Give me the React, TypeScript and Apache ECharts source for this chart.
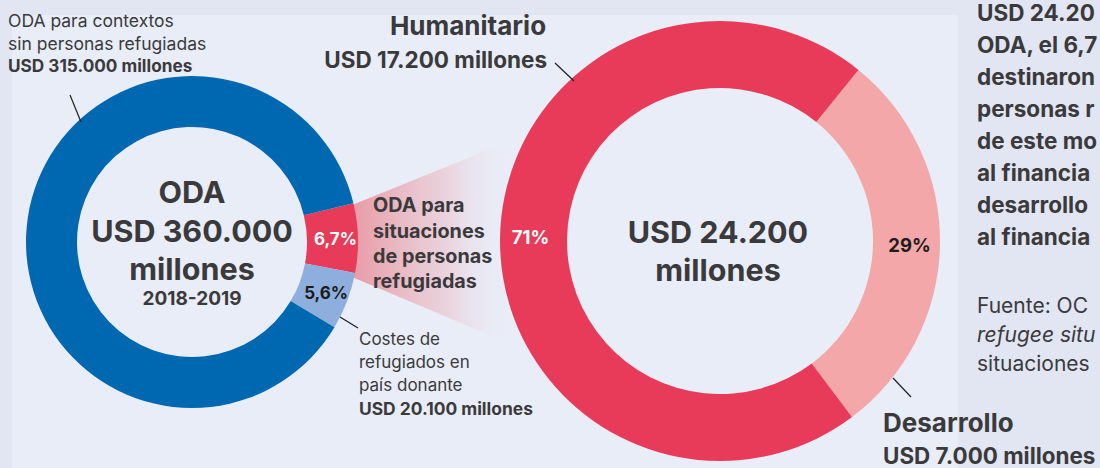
import React, { useEffect, useRef } from "react";
import * as echarts from "echarts";

// ---- data ----
const leftCategories = [
  "ODA para situaciones de personas refugiadas",
  "Costes de refugiados en país donante",
  "ODA para contextos sin personas refugiadas",
];
const leftValues = [24200, 20100, 315000];
const leftPctLabels = ["6,7%", "5,6%", ""];

const rightCategories = ["Desarrollo", "Humanitario"];
const rightValues = [7000, 17200];
const rightPctLabels = ["29%", "71%"];

// visible (cropped) part of the side note, as in the reference
const noteLines = [
  "USD 24.20",
  "ODA, el 6,7",
  "destinaron",
  "personas r",
  "de este mo",
  "al financia",
  "desarrollo",
  "al financia",
];
const sourceLines = ["Fuente: OC", "refugee situ", "situaciones"];

const FONT = "Inter, 'Noto Sans', sans-serif";
const DARK = "#3a3a3c";

export default function App() {
  const ref = useRef<HTMLDivElement>(null);

  useEffect(() => {
    if (!ref.current) return;
    const chart = echarts.init(ref.current, null, { renderer: "svg" });

    const txt = (
      text: string,
      x: number,
      y: number,
      size: number,
      weight: string,
      align: string = "left",
      fill: string = DARK,
      italic = false
    ) => ({
      type: "text",
      z: 20,
      silent: true,
      style: {
        text,
        x,
        y,
        font: `${italic ? "italic " : ""}${weight} ${size}px ${FONT}`,
        fill,
        align,
        textAlign: align,
        verticalAlign: "middle",
        textVerticalAlign: "middle",
      },
    });
    const ln = (x1: number, y1: number, x2: number, y2: number) => ({
      type: "line",
      z: 20,
      silent: true,
      shape: { x1, y1, x2, y2 },
      style: { stroke: "#1f1f1f", lineWidth: 1.2 },
    });

    const graphics: any[] = [
      {
        type: "rect",
        z: 0,
        silent: true,
        shape: { x: 12, y: 15, width: 946, height: 460 },
        style: { fill: "#e9edf8" },
      },
      {
        type: "polygon",
        z: 1,
        silent: true,
        shape: {
          points: [
            [352, 205],
            [525, 135],
            [525, 350],
            [352, 277],
          ],
        },
        style: {
          fill: new echarts.graphic.LinearGradient(0, 0, 1, 0, [
            { offset: 0, color: "rgba(232,150,160,0.95)" },
            { offset: 0.55, color: "rgba(234,200,210,0.7)" },
            { offset: 0.92, color: "rgba(233,237,248,0)" },
          ]),
        },
      },
      // top-left labels
      txt("ODA para contextos", 8, 20, 17.5, "normal"),
      txt("sin personas refugiadas", 8, 43, 17.5, "normal"),
      txt("USD 315.000 millones", 8, 65, 17.2, "bold"),
      ln(70, 95, 81, 122),
      // Humanitario
      txt("Humanitario", 468, 25, 26, "bold", "center"),
      txt("USD 17.200 millones", 547, 59, 22.5, "bold", "right"),
      ln(555, 63, 574, 81),
      // left center
      txt("ODA", 192, 191, 30.5, "bold", "center"),
      txt("USD 360.000", 192, 230, 30.5, "bold", "center"),
      txt("millones", 192, 268, 30.5, "bold", "center"),
      txt("2018-2019", 192, 298, 19, "bold", "center"),
      // wedge label
      txt("ODA para", 373, 205, 19.8, "bold"),
      txt("situaciones", 373, 231, 19.8, "bold"),
      txt("de personas", 373, 256, 19.8, "bold"),
      txt("refugiadas", 373, 281, 19.8, "bold"),
      // costes
      ln(340, 317, 358, 328),
      txt("Costes de", 359, 339, 17, "normal"),
      txt("refugiados en", 359, 362, 17, "normal"),
      txt("país donante", 359, 385, 17, "normal"),
      txt("USD 20.100 millones", 359, 408, 17.4, "bold"),
      // right center
      txt("USD 24.200", 718, 231, 30.5, "bold", "center"),
      txt("millones", 718, 269, 30.5, "bold", "center"),
      // desarrollo
      ln(893, 378, 911, 397),
      txt("Desarrollo", 883, 422, 26, "bold"),
      txt("USD 7.000 millones", 883, 455, 22.4, "bold"),
      // side note (cropped in the reference)
      ...noteLines.map((s, i) => txt(s, 977, 12 + i * 32, 22.5, "bold")),
      ...sourceLines.map((s, i) =>
        txt(s, 977, 305 + i * 29, 21, "normal", "left", DARK, i === 1)
      ),
    ];

    chart.setOption({
      animation: false,
      backgroundColor: "#e1e6f2",
      graphic: graphics,
      series: [
        {
          type: "pie",
          z: 5,
          center: [192, 242],
          radius: [115, 166],
          startAngle: 13.5,
          silent: true,
          label: {
            show: true,
            position: "inside",
            fontFamily: FONT,
            fontWeight: "bold",
            fontSize: 17,
            formatter: (p: any) => leftPctLabels[p.dataIndex],
          },
          labelLine: { show: false },
          itemStyle: { borderWidth: 0 },
          data: leftCategories.map((name, i) => ({
            name,
            value: leftValues[i],
            itemStyle: { color: ["#e83b59", "#8eafdd", "#0067b1"][i] },
            label: { color: ["#ffffff", "#1c1c1c", "#ffffff"][i] },
          })),
        },
        {
          type: "pie",
          z: 5,
          center: [720, 241],
          radius: [153, 220],
          startAngle: 51,
          silent: true,
          label: {
            show: true,
            position: "inside",
            fontFamily: FONT,
            fontWeight: "bold",
            fontSize: 18.5,
            formatter: (p: any) => rightPctLabels[p.dataIndex],
          },
          labelLine: { show: false },
          itemStyle: { borderWidth: 0 },
          data: rightCategories.map((name, i) => ({
            name,
            value: rightValues[i],
            itemStyle: { color: ["#f4a7a8", "#e83b59"][i] },
            label: { color: ["#1c1c1c", "#ffffff"][i] },
          })),
        },
      ],
    });

    return () => chart.dispose();
  }, []);

  return (
    <div
      ref={ref}
      style={{ position: "fixed", left: 0, top: 0, width: 1100, height: 468 }}
    />
  );
}
